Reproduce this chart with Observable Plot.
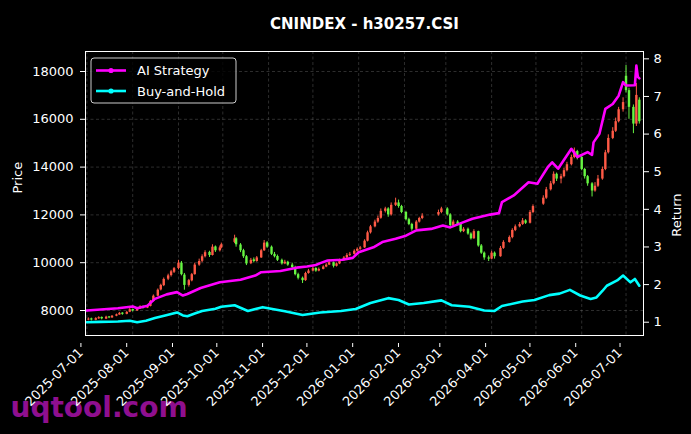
<!DOCTYPE html>
<html>
<head>
<meta charset="utf-8">
<script src="https://cdn.jsdelivr.net/npm/d3@7"></script>
<script src="https://cdn.jsdelivr.net/npm/@observablehq/plot@0.6"></script>
<style>
  html, body { margin: 0; padding: 0; background: #000; }
  #chart { width: 691px; height: 434px; }
</style>
</head>
<body>
<div id="chart"></div>
<script>
// ---------- data ----------
const candleDates = [
  "2025-07-02","2025-07-04","2025-07-07","2025-07-09","2025-07-11","2025-07-14","2025-07-16","2025-07-18","2025-07-21","2025-07-23","2025-07-25","2025-07-28","2025-07-30",
  "2025-08-01","2025-08-04","2025-08-06","2025-08-08","2025-08-11","2025-08-13","2025-08-15","2025-08-18","2025-08-20","2025-08-22","2025-08-25","2025-08-27","2025-08-29",
  "2025-09-01","2025-09-03","2025-09-05","2025-09-08","2025-09-10","2025-09-12","2025-09-15","2025-09-17","2025-09-19","2025-09-22","2025-09-24","2025-09-26","2025-09-29","2025-09-30",
  "2025-10-09","2025-10-10","2025-10-13","2025-10-15","2025-10-17","2025-10-20","2025-10-22","2025-10-24","2025-10-27","2025-10-29","2025-10-31",
  "2025-11-03","2025-11-05","2025-11-07","2025-11-10","2025-11-12","2025-11-14","2025-11-17","2025-11-19","2025-11-21","2025-11-24","2025-11-26","2025-11-28",
  "2025-12-01","2025-12-03","2025-12-05","2025-12-08","2025-12-10","2025-12-12","2025-12-15","2025-12-17","2025-12-19","2025-12-22","2025-12-24","2025-12-26","2025-12-29","2025-12-31",
  "2026-01-02","2026-01-05","2026-01-07","2026-01-09","2026-01-12","2026-01-14","2026-01-16","2026-01-19","2026-01-21","2026-01-23","2026-01-26","2026-01-28","2026-01-30",
  "2026-02-02","2026-02-04","2026-02-06","2026-02-09","2026-02-11","2026-02-13","2026-02-24","2026-02-26",
  "2026-03-02","2026-03-04","2026-03-06","2026-03-09","2026-03-11","2026-03-13","2026-03-16","2026-03-18","2026-03-20","2026-03-23","2026-03-25","2026-03-27","2026-03-30",
  "2026-04-01","2026-04-03","2026-04-07","2026-04-09","2026-04-13","2026-04-15","2026-04-17","2026-04-20","2026-04-22","2026-04-24","2026-04-27","2026-04-29",
  "2026-05-06","2026-05-08","2026-05-11","2026-05-13","2026-05-15","2026-05-18","2026-05-20","2026-05-22","2026-05-25","2026-05-27","2026-05-29",
  "2026-06-01","2026-06-03","2026-06-05","2026-06-08","2026-06-10","2026-06-12","2026-06-15","2026-06-17","2026-06-19","2026-06-22","2026-06-24","2026-06-26","2026-06-29",
  "2026-07-01","2026-07-03","2026-07-06","2026-07-08","2026-07-10"
];
const opens = [
  7600,7650,7590,7650,7710,7640,7730,7690,7760,7810,7890,7840,7930,
  8040,7980,8070,8160,8100,8170,8380,8600,8860,9040,9310,9460,9600,
  9760,9980,9480,9050,9240,9500,9900,10060,10250,10430,10300,10660,10500,10620,
  10850,11000,10740,10500,10250,9960,10120,10050,10200,10500,10830,
  10650,10350,10260,10100,9950,10020,9900,9800,9500,9350,9250,9550,
  9650,9760,9650,9720,9820,9900,10000,9850,9950,10100,10200,10310,10350,10480,
  10560,10620,10900,11250,11500,11700,11860,12150,12250,12000,12400,12500,12350,
  12100,11800,11600,11400,11700,11850,12000,12100,
  12250,12000,11550,11700,11600,11300,11400,11200,11000,11300,10700,10400,10200,
  10150,10400,10250,10600,10850,11050,11350,11500,11600,11750,11650,12100,
  12450,12700,13050,13300,13700,13500,13600,13850,14100,14400,14650,
  14400,13900,13600,13300,13000,13200,13500,13900,14600,15200,15500,15900,16400,
  17800,17200,16500,15800,16800
];
const highs = [
  7690,7680,7700,7740,7730,7760,7750,7790,7850,7920,7910,7960,8080,
  8060,8110,8200,8190,8210,8420,8650,8900,9100,9360,9520,9680,9800,
  10100,10050,9550,9300,9550,9980,10150,10330,10500,10480,10750,10700,10700,10820,
  11150,11050,10800,10560,10300,10180,10200,10260,10560,10930,10880,
  10700,10430,10320,10150,10100,10060,9980,9850,9560,9400,9600,9720,
  9820,9790,9780,9870,9960,10120,10030,9990,10150,10260,10380,10430,10540,10620,
  10680,10960,11320,11560,11780,11950,12250,12320,12300,12500,12700,12620,12400,
  12150,11860,11650,11760,11900,12050,12200,12320,
  12300,12050,11780,11760,11650,11470,11450,11250,11380,11320,10760,10450,10280,
  10480,10450,10680,10920,11120,11420,11580,11680,11850,11800,12180,12420,
  12800,13150,13400,13800,13750,13700,13950,14200,14500,14800,14700,
  14450,13950,13650,13350,13350,13650,14000,14700,15350,15650,16050,16500,16900,
  18250,17300,16600,17500,16900
];
const lows = [
  7570,7560,7570,7630,7610,7620,7660,7670,7740,7800,7800,7820,7910,
  7940,7960,8050,8060,8080,8150,8360,8580,8820,9000,9250,9400,9550,
  9700,9450,8850,8980,9200,9480,9850,10000,10200,10220,10280,10430,10450,10580,
  10800,10650,10420,10180,9880,9920,9990,10020,10180,10470,10600,
  10300,10200,10050,9900,9920,9850,9760,9450,9280,9130,9220,9520,
  9620,9600,9620,9700,9790,9880,9780,9820,9920,10060,10170,10250,10320,10440,
  10520,10600,10870,11200,11460,11650,11820,12080,11900,11950,12350,12280,12050,
  11750,11550,11320,11380,11660,11800,11950,12050,
  11950,11480,11500,11550,11250,11260,11150,10950,10980,10650,10350,10100,10050,
  10120,10150,10230,10560,10820,11000,11300,11460,11560,11600,11620,12050,
  12400,12650,13000,13250,13400,13300,13550,13800,14050,14350,14300,
  13850,13500,13200,12750,12950,13150,13450,13850,14550,15150,15450,15850,16300,
  17100,16000,15400,15700,15800
];
const closes = [
  7640,7600,7660,7700,7650,7720,7690,7760,7820,7880,7840,7920,8030,
  7980,8080,8150,8100,8170,8380,8600,8850,9050,9300,9450,9620,9750,
  9980,9500,9050,9250,9500,9900,10050,10250,10420,10300,10650,10500,10620,10750,
  11000,10750,10500,10250,9950,10100,10050,10200,10500,10820,10650,
  10350,10250,10100,9950,10020,9900,9800,9500,9350,9250,9550,9650,
  9750,9650,9720,9820,9900,10000,9850,9950,10100,10200,10300,10350,10480,10560,
  10620,10900,11250,11500,11700,11850,12150,12250,12000,12400,12500,12350,12100,
  11800,11600,11400,11700,11850,11950,12100,12250,
  12000,11550,11700,11600,11300,11400,11200,11000,11300,10700,10400,10200,10150,
  10400,10250,10600,10850,11050,11350,11500,11600,11750,11650,12100,12350,
  12700,13050,13300,13700,13500,13600,13850,14100,14400,14650,14400,
  13900,13600,13300,13000,13200,13500,13900,14600,15200,15500,15900,16400,16700,
  17200,16500,15800,17000,15900
];

const aiDates = [
  "2025-07-01","2025-07-22","2025-08-01","2025-08-04","2025-08-11","2025-08-16","2025-08-24","2025-08-31",
  "2025-09-04","2025-09-07","2025-09-16","2025-09-29","2025-10-13","2025-10-23","2025-10-27","2025-11-09",
  "2025-11-20","2025-11-27","2025-12-03","2025-12-06","2025-12-11","2025-12-21","2025-12-28","2026-01-01",
  "2026-01-11","2026-01-17","2026-01-26","2026-02-02","2026-02-09","2026-02-19","2026-02-27","2026-03-04",
  "2026-03-13","2026-03-19","2026-03-31","2026-04-06","2026-04-08","2026-04-16","2026-04-26","2026-05-02",
  "2026-05-04","2026-05-09","2026-05-12","2026-05-16","2026-05-25","2026-05-29","2026-06-05","2026-06-08",
  "2026-06-09","2026-06-13","2026-06-17","2026-06-22","2026-06-26","2026-06-29","2026-07-01","2026-07-07",
  "2026-07-08","2026-07-09","2026-07-10"
];
const aiReturn = [
  1.31,1.37,1.42,1.37,1.44,1.62,1.74,1.80,
  1.71,1.75,1.91,2.06,2.13,2.24,2.33,2.36,
  2.45,2.48,2.52,2.57,2.64,2.66,2.71,2.86,
  2.99,3.13,3.22,3.30,3.44,3.48,3.57,3.52,
  3.66,3.75,3.86,3.90,4.19,4.37,4.72,4.68,
  4.81,5.12,5.25,5.08,5.61,5.39,5.52,5.45,
  5.78,6.01,6.67,6.80,7.02,7.38,7.29,7.30,
  7.82,7.52,7.48
];
const bhDates = [
  "2025-07-01","2025-07-10","2025-07-22","2025-07-30","2025-08-04","2025-08-10","2025-08-16","2025-08-23",
  "2025-08-31","2025-09-04","2025-09-07","2025-09-12","2025-09-17","2025-09-26","2025-09-30","2025-10-09",
  "2025-10-18","2025-10-28","2025-11-12","2025-11-24","2025-12-06","2025-12-20","2025-12-30","2026-01-09",
  "2026-01-21","2026-01-28","2026-02-04","2026-02-14","2026-02-26","2026-03-05","2026-03-17","2026-03-27",
  "2026-04-03","2026-04-08","2026-04-22","2026-04-30","2026-05-10","2026-05-17","2026-05-24","2026-05-31",
  "2026-06-07","2026-06-11","2026-06-15","2026-06-18","2026-06-25","2026-06-29","2026-07-04","2026-07-07",
  "2026-07-10"
];
const bhReturn = [
  1.00,1.01,1.02,1.04,1.00,1.04,1.11,1.18,
  1.26,1.18,1.16,1.23,1.30,1.36,1.41,1.45,
  1.30,1.40,1.29,1.19,1.26,1.30,1.35,1.51,
  1.64,1.59,1.47,1.51,1.58,1.45,1.41,1.31,
  1.30,1.43,1.55,1.59,1.72,1.76,1.86,1.71,
  1.62,1.66,1.83,1.97,2.11,2.24,2.06,2.15,
  1.97
];

const monthTicks = ["2025-07-01","2025-08-01","2025-09-01","2025-10-01","2025-11-01","2025-12-01",
  "2026-01-01","2026-02-01","2026-03-01","2026-04-01","2026-05-01","2026-06-01","2026-07-01"];
const priceTicks = [8000, 10000, 12000, 14000, 16000, 18000];
const returnTicks = [1, 2, 3, 4, 5, 6, 7, 8];
const seriesNames = ["AI Strategy", "Buy-and-Hold"];
const titleText = "CNINDEX - h30257.CSI";

// ---------- build tables ----------
const parse = d3.utcParse("%Y-%m-%d");
const UP = "#ff5a46", DOWN = "#66f542";
const MAGENTA = "#ff00ff", CYAN = "#00ffff";
const candles = candleDates.map((d, i) => ({
  date: parse(d), open: opens[i], high: highs[i], low: lows[i], close: closes[i]
}));
const ai = aiDates.map((d, i) => ({date: parse(d), r: aiReturn[i]}));
const bh = bhDates.map((d, i) => ({date: parse(d), r: bhReturn[i]}));
const ticksX = monthTicks.map(parse);

// right (Return) axis shares the plot's vertical range: linear map return -> price units
const PRICE_DOMAIN = [6954, 18837];
const RET_DOMAIN = [0.647, 8.195];
const toPrice = d3.scaleLinear().domain(RET_DOMAIN).range(PRICE_DOMAIN);

const gridStyle = {stroke: "#8a8a8a", strokeOpacity: 0.55, strokeDasharray: "3,2.5", strokeWidth: 0.6};
const FS = 13;

const chart = Plot.plot({
  width: 691,
  height: 434,
  marginLeft: 85,
  marginRight: 48,
  marginTop: 51,
  marginBottom: 99,
  style: {background: "#000", color: "#fff", fontFamily: "DejaVu Sans", fontSize: "13px"},
  x: {type: "utc", domain: [new Date(Date.UTC(2025, 5, 30, 1)), new Date(Date.UTC(2026, 6, 12, 20))]},
  y: {domain: PRICE_DOMAIN},
  color: {type: "identity"},
  marks: [
    Plot.gridX(ticksX, gridStyle),
    Plot.gridY(priceTicks, gridStyle),
    Plot.ruleX(candles, {x: "date", y1: "low", y2: "high",
      stroke: d => d.close >= d.open ? UP : DOWN, strokeWidth: 1}),
    Plot.ruleX(candles, {x: "date", y1: "open", y2: "close",
      stroke: d => d.close >= d.open ? UP : DOWN, strokeWidth: 2.4}),
    Plot.line(bh, {x: "date", y: d => toPrice(d.r), stroke: CYAN, strokeWidth: 2.6}),
    Plot.line(ai, {x: "date", y: d => toPrice(d.r), stroke: MAGENTA, strokeWidth: 2.6}),
    Plot.text(["uqtool.com"], {frameAnchor: "bottom-left", dx: -75, dy: 73, lineAnchor: "middle",
      textAnchor: "start", fontSize: 28, fontWeight: "bold", fill: "#8f0f8f"}),
    Plot.axisX(ticksX, {tickFormat: d3.utcFormat("%Y-%m-%d"), tickRotate: -45, tickSize: 4,
      tickPadding: 3, label: null, fontSize: FS, dx: -6, dy: 8}),
    Plot.axisY(priceTicks, {anchor: "left", tickSize: 5, tickPadding: 7, label: null, fontSize: FS,
      tickFormat: d => String(d)}),
    Plot.axisY(returnTicks.map(r => toPrice(r)), {anchor: "right", tickSize: 5, tickPadding: 5, label: null,
      fontSize: FS, tickFormat: d => String(Math.round(toPrice.invert(d)))}),
    Plot.frame({stroke: "#fff", strokeWidth: 1}),
    Plot.text([titleText], {frameAnchor: "top", dy: -33, fontSize: 15, fontWeight: "bold", fill: "#fff"}),
    Plot.text(["Price"], {frameAnchor: "left", dx: -68, rotate: -90, fontSize: FS, fill: "#fff"}),
    Plot.text(["Return"], {frameAnchor: "right", dx: 33, rotate: -90, fontSize: FS, fill: "#fff"})
  ]
});

document.getElementById("chart").appendChild(chart);

// ---------- legend (upper-left box inside the frame) ----------
const svg = d3.select(chart);
const lg = svg.append("g").attr("font-family", "DejaVu Sans").attr("font-size", FS)
  .attr("text-anchor", "start");
lg.append("rect").attr("x", 91).attr("y", 58).attr("width", 145).attr("height", 45)
  .attr("rx", 3).attr("fill", "#000").attr("fill-opacity", 0.8)
  .attr("stroke", "#cccccc").attr("stroke-width", 1);
[[seriesNames[0], MAGENTA, 70.5], [seriesNames[1], CYAN, 91]].forEach(([name, col, y]) => {
  lg.append("line").attr("x1", 96).attr("x2", 126).attr("y1", y).attr("y2", y)
    .attr("stroke", col).attr("stroke-width", 2.6);
  lg.append("circle").attr("cx", 111).attr("cy", y).attr("r", 2.6).attr("fill", col);
  lg.append("text").attr("x", 137).attr("y", y).attr("dy", "0.35em").attr("fill", "#fff")
    .attr("text-anchor", "start").text(name);
});
</script>
</body>
</html>
